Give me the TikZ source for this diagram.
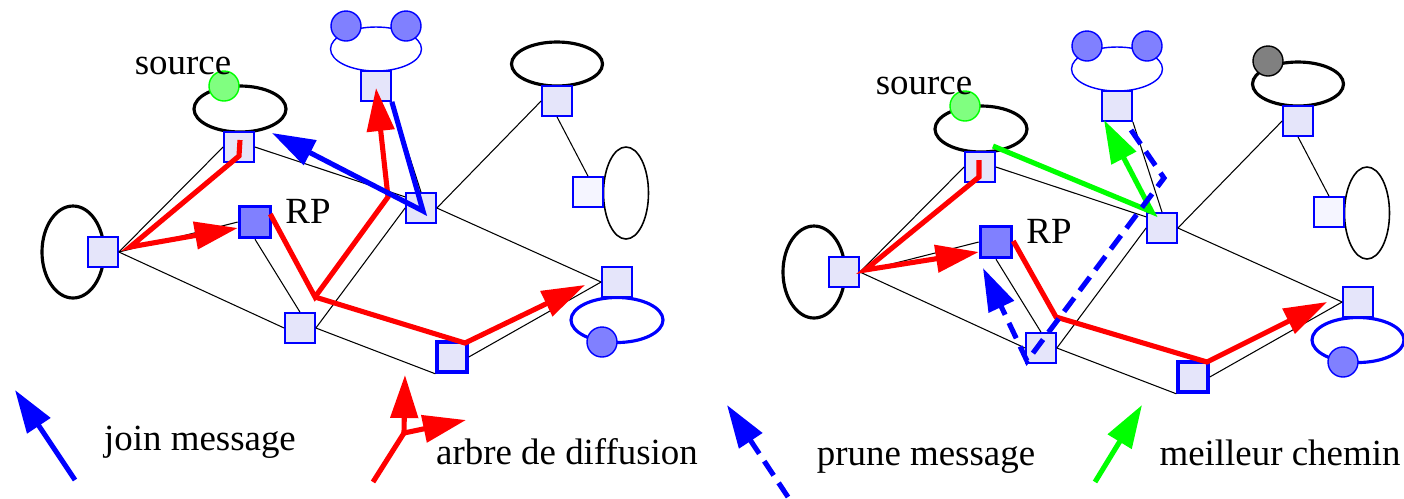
\documentclass[tikz,border=0pt]{standalone}
\usepackage{fontspec}
\setmainfont{Liberation Serif}
\usetikzlibrary{shapes.geometric, arrows.meta, calc}
\definecolor{routeurfond}{RGB}{229,229,250}
\definecolor{routeurpale}{RGB}{245,245,255}
\definecolor{membrefond}{RGB}{128,128,255}
\definecolor{sourcefond}{RGB}{128,255,128}
\definecolor{absentfond}{RGB}{128,128,128}

\tikzset{
  routeur/.style={draw=blue, fill=routeurfond, minimum size=3mm, inner sep=0pt, line width=0.5pt},
  hote/.style={ellipse, draw, inner sep=0pt, line width=0.9pt},
  membre/.style={circle, draw=blue, fill=membrefond, minimum size=3mm, inner sep=0pt, line width=0.4pt},
  lien/.style={line width=0.3pt},
  fleche/.style={line width=1.45pt, -{Triangle[length=4.3mm, width=2.7mm]}},
  msgjoin/.style={fleche, blue},
  arbrediff/.style={fleche, red},
  msgprune/.style={fleche, blue, dash pattern=on 1.7mm off 0.9mm},
  meilleur/.style={fleche, green},
  texte/.style={anchor=base, inner sep=0pt},
}

% un reseau, #1 = prefixe des noms
\newcommand{\reseau}[1]{
  % hotes
  \node[hote, minimum width=9.2mm, minimum height=4.6mm] (#1hsrc) at (240,109) {};
  \node[membre, draw=green, fill=sourcefond] (#1msrc) at (224,86) {};
  \node[texte] (#1source) at (183,74) {source};
  \node[hote, minimum width=6.2mm, minimum height=9.2mm] (#1hgauche) at (73,252) {};
  \node[hote, draw=blue, line width=0.4pt, minimum width=9.1mm, minimum height=4.4mm] (#1hhaut) at (376,49) {};
  \node[membre] (#1m1) at (346,26) {};
  \node[membre] (#1m2) at (406,26) {};
  \node[hote, minimum width=9.1mm, minimum height=4.4mm] (#1hdroite) at (557,64) {};
  \node[hote, line width=0.45pt, minimum width=4.5mm, minimum height=9.2mm] (#1hcote) at (626,193) {};
  \node[hote, draw=blue, minimum width=9.2mm, minimum height=4.5mm] (#1hbas) at (617,320) {};
  \node[membre] (#1m3) at (602,342) {};
  % routeurs
  \node[routeur] (#1rsrc) at (239,147) {};
  \node[routeur] (#1rgauche) at (103,252) {};
  \node[routeur, fill=membrefond, line width=1pt, minimum size=3.1mm] (#1rp) at (255,222) {};
  \node[texte] (#1rplabel) at (308,223) {RP};
  \node[routeur] (#1rhaut) at (376,86) {};
  \node[routeur] (#1rmilieu) at (421,208) {};
  \node[routeur] (#1rdroite) at (557,101) {};
  \node[routeur, fill=routeurpale] (#1rcote) at (588,192) {};
  \node[routeur] (#1rbas) at (617,282) {};
  \node[routeur] (#1rb1) at (300,328) {};
  \node[routeur, line width=1pt] (#1rb2) at (452,357) {};
  \coordinate (#1pli) at (315,297);
  % liens
  \draw[lien] (#1rgauche.east) -- (#1rsrc.west);
  \draw[lien] (#1rgauche.east) -- (#1rp.west);
  \draw[lien] (#1rgauche.east) -- (#1rb1.west);
  \draw[lien] (#1rsrc.east) -- (#1rmilieu.145);
  \draw[lien] (#1rp.south) -- (#1rb1.north);
  \draw[lien] (#1rb1.east) -- (#1rmilieu.west);
  \draw[lien] (#1rb1.east) -- (#1rb2.south west);
  \draw[lien] (#1rb2.east) -- (#1rbas.west);
  \draw[lien] (#1rmilieu.east) -- (#1rbas.west);
  \draw[lien] (#1rmilieu.east) -- (#1rdroite.west);
  \draw[lien] (#1rhaut.south east) -- (#1rmilieu.north);
  \draw[lien] (#1rdroite.south) -- (#1rcote.north);
}

\begin{document}
\begin{tikzpicture}[x=0.1mm, y=-0.1mm, font=\fontsize{10.5}{12}\selectfont]
  \useasboundingbox (0,0) rectangle (1404,498);

  % reseau de gauche
  \reseau{L}
  \draw[arbrediff] ($(Lrsrc)+(1,-7)$) -- ($(Lrsrc)+(0,9)$) -- ($(Lrgauche)+(27,-5)$) -- ($(Lrp.west)+(0,6)$);
  \draw[arbrediff] ($(Lrp.east)+(-2,-8)$) -- (Lpli) -- ($(Lrmilieu)+(-33,-11)$) -- ($(Lrhaut)+(0,2)$);
  \draw[arbrediff] (Lpli) -- ($(Lrb2)+(13,-14)$) -- ($(Lrbas)+(-32,3)$);
  \draw[msgjoin] (Lrhaut.south east) -- ($(Lrmilieu)+(2,3)$) -- ($(Lrsrc)+(33,-14)$);

  % reseau de droite
  \begin{scope}[shift={(741,20)}]
    \reseau{R}
    \coordinate (Rcoin) at (423,158);
  \end{scope}
  \node[membre, draw=black, fill=absentfond] (Rmabsent) at ($(Rhdroite)+(-30,-23)$) {};
  \draw[arbrediff] ($(Rrsrc)+(-1,-7)$) -- ($(Rrsrc)+(-1,10)$) -- ($(Rrgauche)+(21,-2)$) -- ($(Rrp.west)+(0,10)$);
  \draw[arbrediff] ($(Rrp.east)+(0,-1)$) -- (Rpli) -- ($(Rrb2)+(14,-15)$) -- ($(Rrbas)+(-31,0)$);
  \draw[meilleur] ($(Rrsrc)+(13,-21)$) -- ($(Rrmilieu)+(-10,-16)$) -- ($(Rrhaut)+(-13,14)$);
  \draw[msgprune] ($(Rrhaut)+(14,24)$) -- (Rcoin) -- ($(Rrb1)+(-14,13)$) -- ($(Rrp)+(-13,26)$);

  % legende
  \coordinate (joinbas) at (75,480);
  \coordinate (joinhaut) at (15,390);
  \draw[msgjoin] (joinbas) -- (joinhaut);
  \node[texte] (tjoin) at (200,450) {join message};

  \coordinate (arbrebas) at (373,482);
  \coordinate (arbrenoeud) at (404,433);
  \coordinate (arbrehaut) at (405,375);
  \coordinate (arbredroite) at (466,420);
  \draw[arbrediff, -] (arbrebas) -- (arbrenoeud);
  \draw[arbrediff] (arbrenoeud) -- (arbrehaut);
  \draw[arbrediff] (arbrenoeud) -- (arbredroite);
  \node[texte] (tarbre) at (567,464) {arbre de diffusion};

  \coordinate (prunebas) at (788,497);
  \coordinate (prunehaut) at (727,405);
  \draw[msgprune] (prunebas) -- (prunehaut);
  \node[texte] (tprune) at (926,465) {prune message};

  \coordinate (cheminbas) at (1095,482);
  \coordinate (cheminhaut) at (1142,405);
  \draw[meilleur] (cheminbas) -- (cheminhaut);
  \node[texte] (tchemin) at (1280,465) {meilleur chemin};
\end{tikzpicture}
\end{document}
